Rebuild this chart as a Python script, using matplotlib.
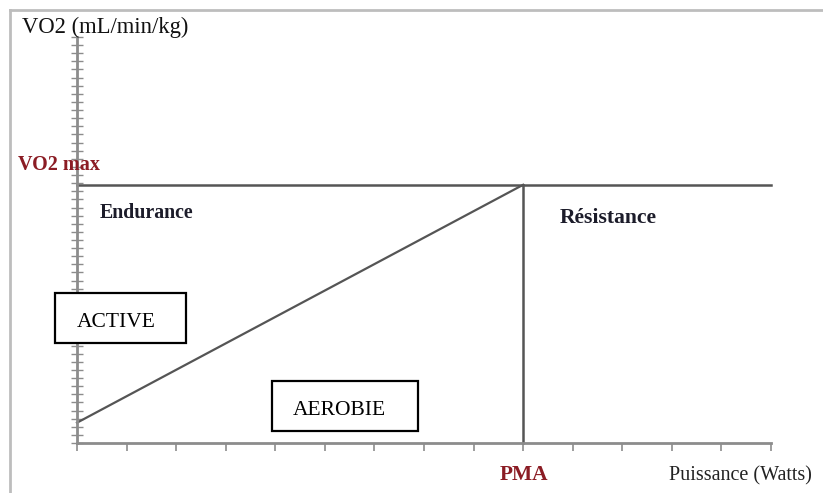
import matplotlib.pyplot as plt
from matplotlib.patches import Rectangle
from matplotlib.lines import Line2D

# Data (arbitrary units)
puissance = [0, 9, 14]          # x: rest, PMA, end of axis
vo2_rest = 2.5
vo2_max = 31.8
pma = 9
x_ticks = list(range(0, 15))
y_ticks = list(range(0, 51))

W, H = 823, 493
fig = plt.figure(figsize=(W / 100, H / 100), dpi=100)

def fx(px):
    return px / W

def fy(py):
    return 1 - py / H

ax = fig.add_axes([fx(77), fy(443), fx(771) - fx(77), fy(37) - fy(443)])
ax.set_xlim(0, 14)
ax.set_ylim(0, 50)

axis_col = "#8c8c8c"
line_col = "#555555"
red = "#8b1c24"

for s in ["top", "right"]:
    ax.spines[s].set_visible(False)
for s in ["left", "bottom"]:
    ax.spines[s].set_color(axis_col)
    ax.spines[s].set_linewidth(2)

ax.set_xticks(x_ticks)
ax.set_yticks(y_ticks)
ax.set_xticklabels([])
ax.set_yticklabels([])
ax.tick_params(axis="x", direction="out", length=6, width=1.2, color=axis_col)
ax.tick_params(axis="y", direction="inout", length=8, width=1.0, color=axis_col)

# VO2 max plateau, PMA vertical, linear rise
ax.plot([0, puissance[2]], [vo2_max, vo2_max], color=line_col, lw=1.8, clip_on=False)
ax.plot([pma, pma], [0, vo2_max], color=line_col, lw=1.8, clip_on=False)
ax.plot([puissance[0], puissance[1]], [vo2_rest, vo2_max], color=line_col, lw=1.6, clip_on=False)

# outer frame (only left and top visible)
fig.add_artist(Line2D([fx(10), fx(10)], [fy(10), 0], color="#bdbdbd", lw=2))
fig.add_artist(Line2D([fx(10), 1], [fy(10), fy(10)], color="#bdbdbd", lw=2))

serif = ["Liberation Serif", "DejaVu Serif"]

fig.text(fx(22), fy(33), "VO2 (mL/min/kg)", family=serif, fontsize=16.3, color="#111111", va="baseline")
fig.text(fx(18), fy(170), "VO2 max", family=serif, fontsize=14.5, weight="bold", color=red, va="baseline")
fig.text(fx(100), fy(218), "Endurance", family=serif, fontsize=14.3, weight="bold", color="#1c1c2a", va="baseline")
fig.text(fx(560), fy(223), "Résistance", family=serif, fontsize=15.6, weight="bold", color="#1c1c2a", va="baseline")
fig.text(fx(500), fy(480), "PMA", family=serif, fontsize=15.4, weight="bold", color=red, va="baseline")
fig.text(fx(669), fy(480), "Puissance (Watts)", family=serif, fontsize=14.5, color="#222222", va="baseline")

# boxed labels
fig.add_artist(Rectangle((fx(55), fy(343)), fx(186) - fx(55), fy(293) - fy(343),
                         transform=fig.transFigure, fill=True, facecolor="white",
                         edgecolor="black", lw=1.6))
fig.text(fx(77), fy(327), "ACTIVE", family=serif, fontsize=15.5, color="black", va="baseline")

fig.add_artist(Rectangle((fx(272), fy(431)), fx(418) - fx(272), fy(381) - fy(431),
                         transform=fig.transFigure, fill=True, facecolor="white",
                         edgecolor="black", lw=1.6))
fig.text(fx(293), fy(415), "AEROBIE", family=serif, fontsize=15.5, color="black", va="baseline")

fig.savefig("out.png", dpi=100)
